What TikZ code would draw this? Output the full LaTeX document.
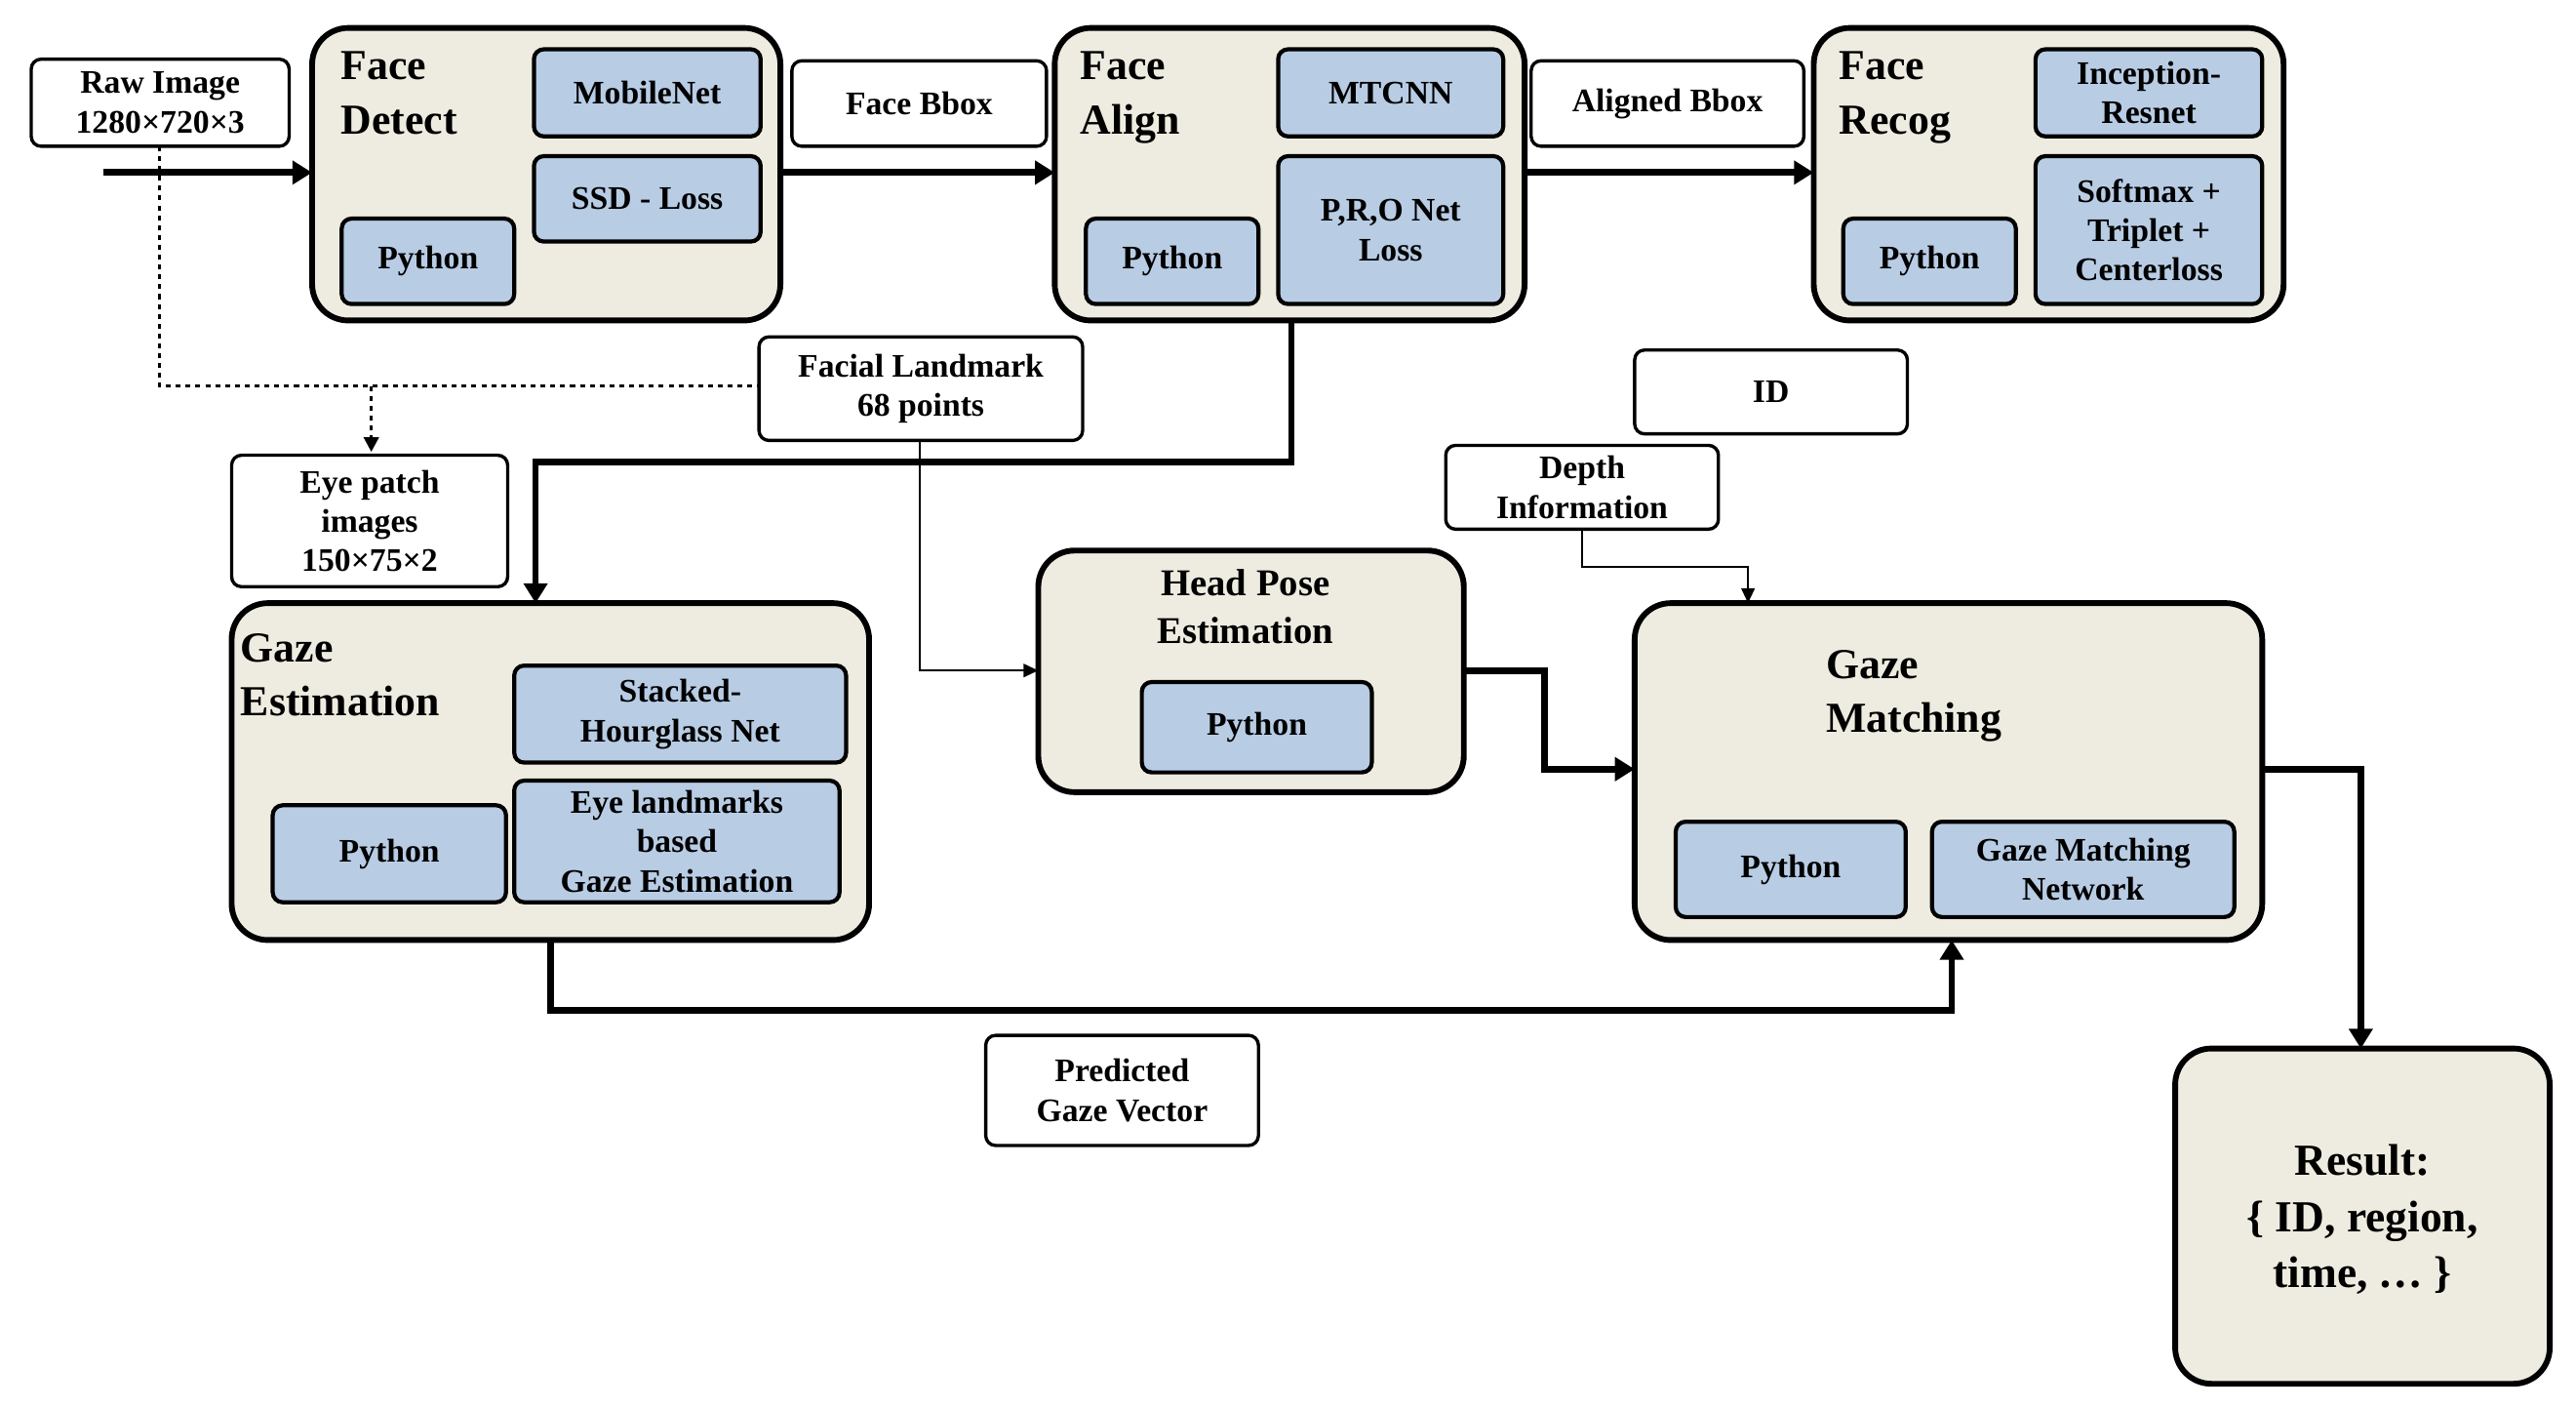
\documentclass[tikz,border=0pt]{standalone}
\usepackage{fontspec}
\setmainfont{Liberation Serif}
\usetikzlibrary{arrows.meta}
\definecolor{beige}{HTML}{EEEBE0}
\definecolor{bl}{HTML}{B8CCE4}
\begin{document}
\begin{tikzpicture}[x=1pt,y=-1pt,
 outer/.style={draw,fill=beige,line width=3.5pt,rounded corners=22pt},
 inner/.style={draw,fill=bl,line width=2.5pt,rounded corners=6pt},
 lab/.style={draw,fill=white,line width=2pt,rounded corners=6pt},
 txt/.style={font=\fontsize{20}{24}\selectfont\bfseries,align=center},
 ttl/.style={font=\fontsize{26}{33}\selectfont\bfseries,align=left,anchor=north west},
 thk/.style={line width=4pt,-{Triangle[length=12pt,width=14pt]}},
 thn/.style={line width=1.5pt,-{Triangle[length=9pt,width=8pt]}}]
\useasboundingbox (0,0) rectangle (1568,856);
\newcommand\bx[6]{\draw[#1] (#2,#3) rectangle (#4,#5); \node[txt] at ({(#2+#4)/2},{(#3+#5)/2}) {#6};}
% Face detect
\draw[outer] (190,17) rectangle (475,195);
\node[ttl] at (204,28) {Face\\Detect};
\bx{inner}{325}{30}{463}{83}{MobileNet}
\bx{inner}{325}{95}{463}{147}{SSD - Loss}
\bx{inner}{208}{133}{313}{185}{Python}
% Face align
\draw[outer] (642,17) rectangle (928,195);
\node[ttl] at (654,28) {Face\\Align};
\bx{inner}{778}{30}{915}{83}{MTCNN}
\bx{inner}{778}{95}{915}{185}{P,R,O Net\\Loss}
\bx{inner}{661}{133}{766}{185}{Python}
% Face recog
\draw[outer] (1104,17) rectangle (1390,195);
\node[ttl] at (1116,28) {Face\\Recog};
\bx{inner}{1239}{30}{1377}{83}{Inception-\\Resnet}
\bx{inner}{1239}{95}{1377}{185}{Softmax +\\Triplet +\\Centerloss}
\bx{inner}{1122}{133}{1227}{185}{Python}
% labels
\bx{lab}{19}{36}{176}{89}{Raw Image\\1280×720×3}
\bx{lab}{482}{37}{637}{89}{Face Bbox}
\bx{lab}{932}{37}{1098}{89}{Aligned Bbox}
\bx{lab}{462}{205}{659}{268}{Facial Landmark\\68 points}
\bx{lab}{141}{277}{309}{357}{Eye patch\\images\\150×75×2}
\bx{lab}{995}{213}{1161}{264}{ID}
\bx{lab}{880}{271}{1046}{322}{Depth\\Information}
\bx{lab}{600}{630}{766}{697}{Predicted\\Gaze Vector}
% top arrows
\draw[thk] (63,105) -- (190,105);
\draw[thk] (475,105) -- (642,105);
\draw[thk] (928,105) -- (1104,105);
\draw[line width=2pt,dashed] (97,89) -- (97,235) -- (462,235);
\draw[line width=2pt,dashed,-{Triangle[length=9pt,width=9pt]}] (226,235) -- (226,275);
\draw[thk] (786,195) -- (786,281) -- (326,281) -- (326,367);
\draw[thn] (560,268) -- (560,408) -- (632,408);
\draw[thn] (963,322) -- (963,345) -- (1064,345) -- (1064,367);
% head pose
\draw[outer] (632,335) rectangle (891,482);
\node[txt,font=\fontsize{23}{29}\selectfont\bfseries] at (758,369) {Head Pose\\Estimation};
\bx{inner}{695}{415}{835}{470}{Python}
% gaze matching
\draw[outer] (995,367) rectangle (1377,572);
\node[ttl] at (1108,392) {Gaze\\Matching};
\bx{inner}{1020}{500}{1160}{558}{Python}
\bx{inner}{1176}{500}{1360}{558}{Gaze Matching\\Network}
\draw[thk] (891,408) -- (940,408) -- (940,468) -- (995,468);
% gaze estimation
\draw[outer] (141,367) rectangle (529,572);
\node[ttl] at (143,382) {Gaze\\Estimation};
\bx{inner}{313}{405}{515}{464}{Stacked-\\Hourglass Net}
\bx{inner}{313}{475}{511}{549}{Eye landmarks\\based\\Gaze Estimation}
\bx{inner}{166}{490}{308}{549}{Python}
\draw[thk] (335,572) -- (335,615) -- (1188,615) -- (1188,572);
% result
\draw[outer] (1324,638) rectangle (1552,842);
\node[txt,font=\fontsize{27}{34}\selectfont\bfseries] at (1438,742) {Result:\\\{ ID, region,\\time, … \}};
\draw[thk] (1377,468) -- (1437,468) -- (1437,638);
\end{tikzpicture}
\end{document}
